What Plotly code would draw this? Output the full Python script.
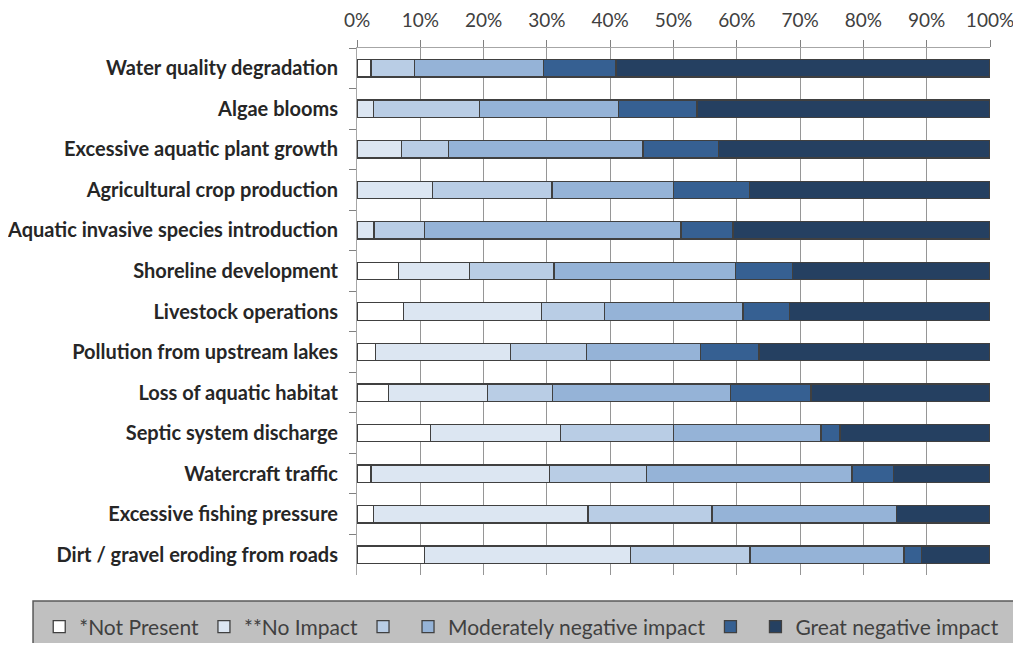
import plotly.graph_objects as go

categories = [
    "Water quality degradation",
    "Algae blooms",
    "Excessive aquatic plant growth",
    "Agricultural crop production",
    "Aquatic invasive species introduction",
    "Shoreline development",
    "Livestock operations",
    "Pollution from upstream lakes",
    "Loss of aquatic habitat",
    "Septic system discharge",
    "Watercraft traffic",
    "Excessive fishing pressure",
    "Dirt / gravel eroding from roads",
]

# shares in percent, one list per response level
not_present = [2.2, 0, 0, 0, 0, 6.6, 7.3, 2.9, 5.0, 11.6, 2.2, 2.6, 10.7]
no_impact = [0, 2.6, 7.0, 11.9, 2.7, 11.2, 21.9, 21.3, 15.6, 20.6, 28.2, 33.9, 32.5]
level_3 = [6.9, 16.8, 7.4, 18.9, 8.0, 13.3, 9.9, 12.1, 10.3, 17.8, 15.3, 19.6, 18.9]
moderate = [20.4, 21.9, 30.8, 19.2, 40.5, 28.7, 21.9, 18.0, 28.1, 23.3, 32.5, 29.1, 24.3]
level_5 = [11.4, 12.4, 11.9, 12.0, 8.2, 9.0, 7.3, 9.2, 12.7, 3.0, 6.6, 0, 2.8]
great = [59.1, 46.3, 42.9, 38.0, 40.6, 31.2, 31.7, 36.5, 28.3, 23.7, 15.2, 14.8, 10.8]

series = [
    ("*Not Present", not_present, "#ffffff"),
    ("**No Impact", no_impact, "#dce6f2"),
    ("", level_3, "#b9cde5"),
    ("Moderately negative impact", moderate, "#95b3d7"),
    ("", level_5, "#366092"),
    ("Great negative impact", great, "#254061"),
]

font = "Lato, 'Open Sans', sans-serif"

fig = go.Figure()
for name, vals, color in series:
    fig.add_trace(go.Bar(
        y=categories,
        x=vals,
        name=name,
        orientation="h",
        marker=dict(color=color, line=dict(color="#404040", width=1.3)),
    ))

# page has an 8px body margin, so the figure is 1005x635 drawn at (8, 8)
fig.update_layout(
    barmode="stack",
    bargap=0.57,
    margin=dict(l=349, r=23, t=40, b=68, autoexpand=False),
    plot_bgcolor="white",
    paper_bgcolor="white",
    font=dict(family=font, color="#404040", size=19),
    legend=dict(
        orientation="h",
        x=-0.502,
        xanchor="left",
        y=-0.0987,
        yanchor="middle",
        bgcolor="rgba(0,0,0,0)",
        font=dict(size=21, color="#404040"),
        traceorder="normal",
    ),
    shapes=[dict(
        type="rect", xref="paper", yref="paper",
        x0=-0.5118, x1=1.0395, y0=-0.0493, y1=-0.165,
        fillcolor="#c0c0c0", line=dict(color="#595959", width=1.5),
        layer="below",
    )],
)

fig.update_xaxes(
    side="top",
    range=[0, 100],
    dtick=10,
    ticksuffix="%",
    ticks="outside",
    ticklen=7,
    tickcolor="#808080",
    ticklabelstandoff=5,
    ticklabeloverflow="allow",
    showline=True,
    linecolor="#a6a6a6",
    showgrid=True,
    gridcolor="#969696",
    gridwidth=1.2,
    zeroline=False,
    tickfont=dict(size=19, color="#404040"),
)

fig.update_yaxes(
    autorange="reversed",
    ticks="outside",
    tickson="boundaries",
    ticklen=7,
    tickcolor="#808080",
    ticklabelstandoff=14,
    showline=True,
    linecolor="#a6a6a6",
    showgrid=False,
    tickfont=dict(size=20, color="#262626", weight="bold"),
)

fig.write_html("out.html")
